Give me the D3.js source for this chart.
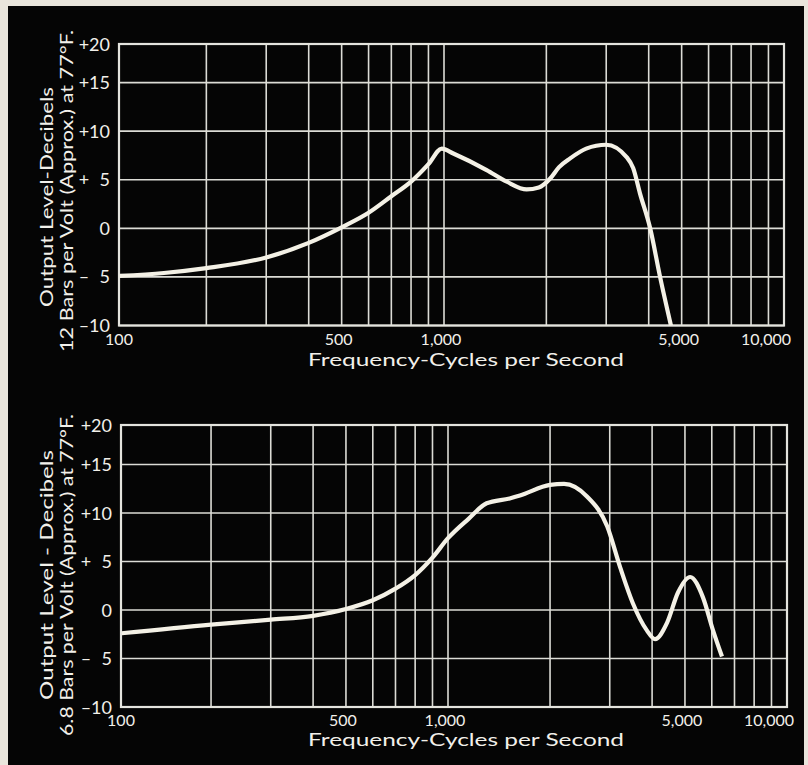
<!DOCTYPE html>
<html>
<head>
<meta charset="utf-8">
<script src="https://cdn.jsdelivr.net/npm/d3@7"></script>
<style>
  html, body { margin: 0; padding: 0; background: #e9e5dc; }
  svg { display: block; }
  text { font-family: Lato, "DejaVu Sans", sans-serif; fill: #f2f0ea; white-space: pre; }
</style>
</head>
<body>
<div id="app"></div>
<script>
// response curves (frequency in c/s, level in dB)
const topFreq  = [111, 150, 200, 300, 400, 500, 600, 700, 800, 900, 985, 1065, 1335, 1530, 1750, 1900, 2050, 2180, 2350, 2620, 3000, 3450, 3600, 3770, 4040, 4320, 4650];
const topLevel = [-4.9, -4.6, -4.1, -3.0, -1.5, 0.1, 1.6, 3.3, 4.8, 6.6, 8.2, 7.7, 6.0, 4.8, 4.0, 4.2, 5.1, 6.3, 7.2, 8.2, 8.6, 7.3, 6.2, 3.6, 0.0, -5.0, -10.0];

const botFreq  = [109, 200, 300, 400, 500, 600, 700, 800, 900, 1000, 1150, 1300, 1520, 1630, 2000, 2200, 2570, 2950, 3220, 3510, 3860, 4080, 4430, 4770, 5180, 5650, 6050, 6430];
const botLevel = [-2.4, -1.5, -1.0, -0.6, 0.1, 1.0, 2.2, 3.6, 5.4, 7.4, 9.4, 11.0, 11.5, 11.8, 12.9, 13.0, 11.7, 8.6, 4.4, 0.7, -2.1, -3.0, -1.3, 1.8, 3.4, 1.3, -2.1, -4.8];

// chart paper
const gridFreq = [200, 300, 400, 500, 600, 700, 800, 900, 1000, 2000, 3000, 4000, 5000, 6000, 7000, 8000, 9000];
const freqTicks = [100, 500, 1000, 5000, 10000];
const freqLabels = ['100', '500', '1,000', '5,000', '10,000'];
const dbTicks = [-10, -5, 0, 5, 10, 15, 20];
const dbLabels = ['\u201310', '\u2013\u20075', '0', '+\u20075', '+10', '+15', '+20'];

const width = 808, height = 765;

const svg = d3.select('#app').append('svg')
	.attr('width', width)
	.attr('height', height);

// black photo area on the light page
svg.append('rect')
	.attr('x', 8).attr('y', 6)
	.attr('width', 796).attr('height', height - 6)
	.attr('fill', '#050505');

// the printed frame does not sit exactly on 100 c/s and +20 dB,
// so the scales run a little past the frame on the left and top
const panels = [
	{
		freq: topFreq, level: topLevel,
		x100: 104, x10k: 784, left: 119, top: 44, yMin: 325.5, yMax: 34,
		title1: 'Output Level-Decibels', len1: 220, cy1: 197,
		title2: '12 Bars per Volt (Approx.) at 77\u00b0F.', len2: 322, cy2: 191,
		xTitleY: 366
	},
	{
		freq: botFreq, level: botLevel,
		x100: 109, x10k: 787, left: 121, top: 425, yMin: 707, yMax: 416,
		title1: 'Output Level - Decibels', len1: 250, cy1: 575,
		title2: '6.8 Bars per Volt (Approx.) at 77\u00b0F.', len2: 322, cy2: 575,
		xTitleY: 746
	}
];

const drawPanel = p => {

	let xScale = d3.scaleLog()
		.domain([100, 10000])
		.range([p.x100, p.x10k]);

	let yScale = d3.scaleLinear()
		.domain([-10, 20])
		.range([p.yMin, p.yMax]);

	const right = xScale(10000),
		bottom = yScale(-10),
		yPos = d => d === 20 ? p.top : yScale(d);

	let g = svg.append('g');

	// vertical rules
	g.selectAll('line.v')
		.data(gridFreq)
		.enter().append('line')
		.attr('x1', d => xScale(d)).attr('x2', d => xScale(d))
		.attr('y1', p.top).attr('y2', bottom)
		.attr('stroke', '#dcdcd6')
		.attr('stroke-width', 1.6);

	// horizontal rules
	g.selectAll('line.h')
		.data(dbTicks.filter(d => d < 20))
		.enter().append('line')
		.attr('x1', p.left).attr('x2', right)
		.attr('y1', d => yScale(d)).attr('y2', d => yScale(d))
		.attr('stroke', '#dcdcd6')
		.attr('stroke-width', 1.6);

	// frame
	g.append('rect')
		.attr('x', p.left).attr('y', p.top)
		.attr('width', right - p.left).attr('height', bottom - p.top)
		.attr('fill', 'none')
		.attr('stroke', '#e4e4de')
		.attr('stroke-width', 2.2);

	// level labels
	g.selectAll('text.db')
		.data(dbTicks)
		.enter().append('text')
		.attr('x', p.left - 9)
		.attr('y', d => yPos(d) + 6.5)
		.attr('text-anchor', 'end')
		.style('font-size', '18px')
		.text((d, i) => dbLabels[i]);

	// frequency labels
	g.selectAll('text.f')
		.data(freqTicks)
		.enter().append('text')
		.attr('x', (d, i) => i === 0 ? p.left : (i === freqTicks.length - 1 ? right + 7 : xScale(d) - 3))
		.attr('y', bottom + 19)
		.attr('text-anchor', (d, i) => i === freqTicks.length - 1 ? 'end' : 'middle')
		.style('font-size', '16px')
		.text((d, i) => freqLabels[i]);

	g.append('text')
		.attr('x', 308)
		.attr('y', p.xTitleY)
		.attr('textLength', 316)
		.attr('lengthAdjust', 'spacingAndGlyphs')
		.style('font-size', '18px')
		.text('Frequency-Cycles per Second');

	// rotated level titles
	g.append('text')
		.attr('transform', `translate(53,${ p.cy1 }) rotate(-90)`)
		.attr('x', -p.len1 / 2)
		.attr('textLength', p.len1)
		.attr('lengthAdjust', 'spacingAndGlyphs')
		.style('font-size', '18px')
		.text(p.title1);

	g.append('text')
		.attr('transform', `translate(73,${ p.cy2 }) rotate(-90)`)
		.attr('x', -p.len2 / 2)
		.attr('textLength', p.len2)
		.attr('lengthAdjust', 'spacingAndGlyphs')
		.style('font-size', '18px')
		.text(p.title2);

	// response curve
	let line = d3.line()
		.x((d, i) => xScale(p.freq[i]))
		.y(d => yScale(d))
		.curve(d3.curveMonotoneX);

	g.append('path')
		.attr('d', line(p.level))
		.attr('fill', 'none')
		.attr('stroke', '#f4f1e6')
		.attr('stroke-width', 4.2)
		.attr('stroke-linejoin', 'round');
};

panels.forEach(drawPanel);
</script>
</body>
</html>
